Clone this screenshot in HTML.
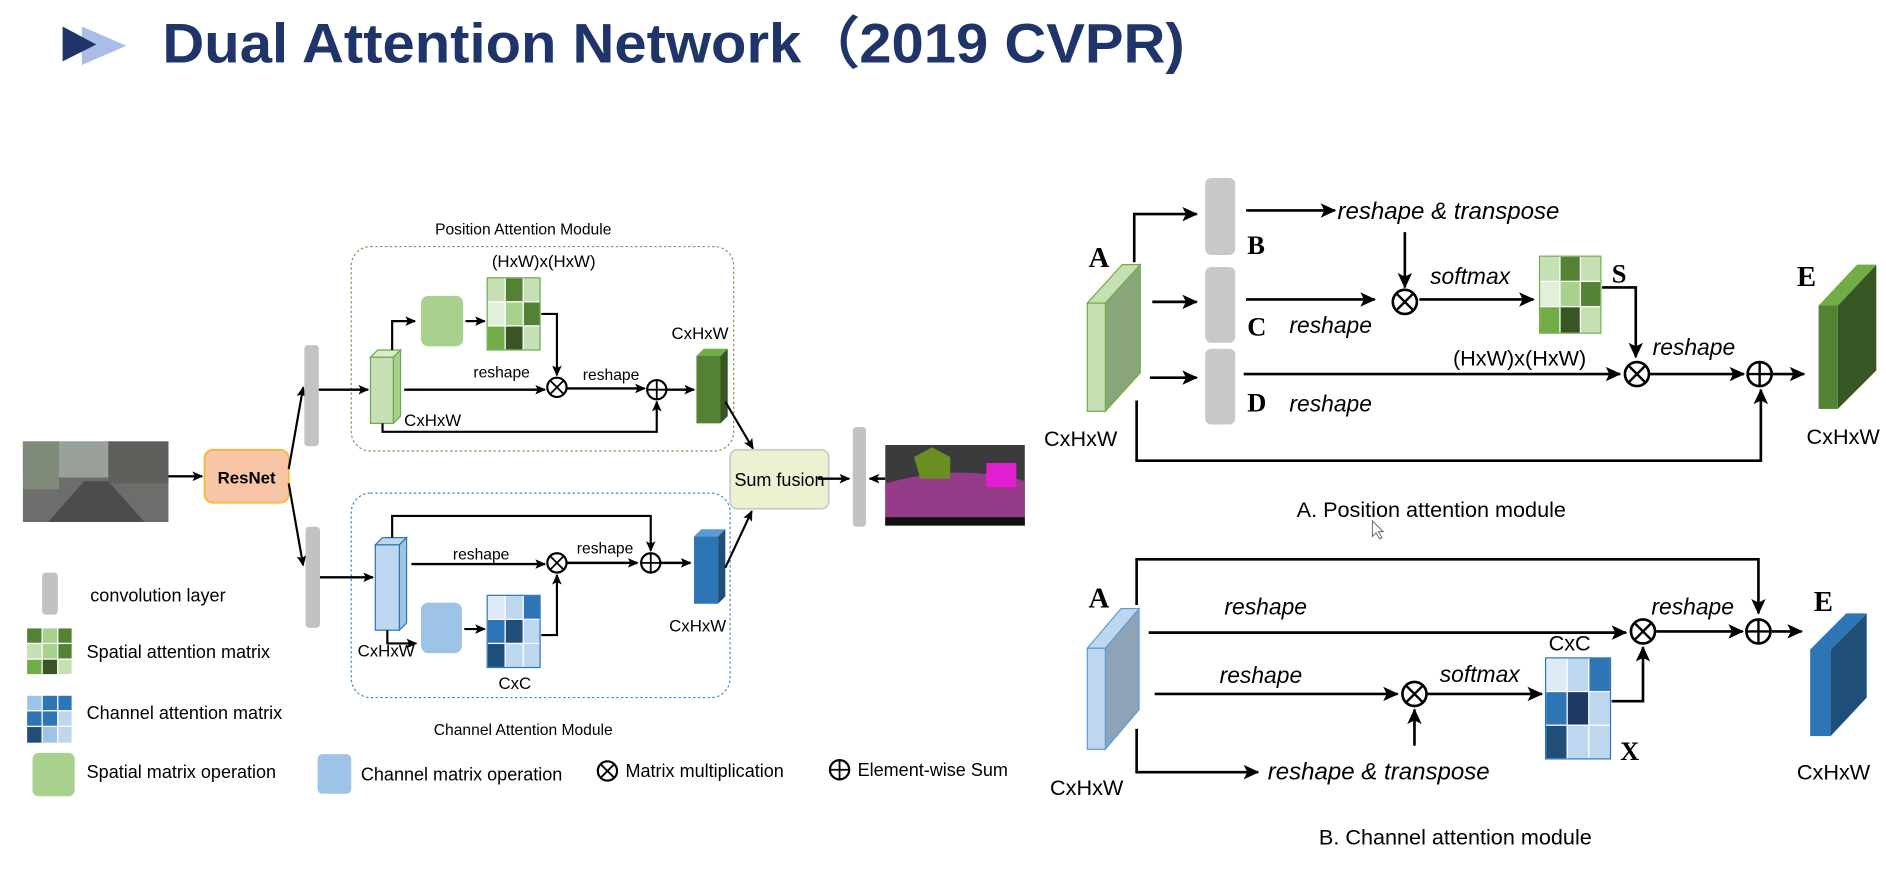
<!DOCTYPE html>
<html><head><meta charset="utf-8"><style>
html,body{margin:0;padding:0;background:#fff;width:1886px;height:884px;overflow:hidden}
svg{display:block}
text{font-family:"Liberation Sans",sans-serif}
.it{font-style:italic}
.sr{font-family:"Liberation Serif",serif;font-weight:bold}
</style></head><body>
<svg width="1886" height="884" viewBox="0 0 1568 735" xmlns="http://www.w3.org/2000/svg">
<defs>
<marker id="ar" markerWidth="10" markerHeight="10" refX="8" refY="5" orient="auto" markerUnits="userSpaceOnUse"><path d="M0,1 L9,5 L0,9 L2,5 z" fill="#000"/></marker>
<marker id="ar2" markerWidth="14" markerHeight="14" refX="12" refY="7" orient="auto" markerUnits="userSpaceOnUse"><path d="M0,1 L13,7 L0,13 L3,7 z" fill="#000"/></marker>
<g id="otimes"><circle r="8" fill="#fff" stroke="#000" stroke-width="1.8"/><path d="M-5.5,-5.5 L5.5,5.5 M-5.5,5.5 L5.5,-5.5" stroke="#000" stroke-width="1.5"/></g>
<g id="oplus"><circle r="8" fill="#fff" stroke="#000" stroke-width="1.8"/><path d="M-8,0 L8,0 M0,-8 L0,8" stroke="#000" stroke-width="1.5"/></g>
<g id="otb"><circle r="10" fill="#fff" stroke="#000" stroke-width="2.2"/><path d="M-7,-7 L7,7 M-7,7 L7,-7" stroke="#000" stroke-width="2"/></g>
<g id="opb"><circle r="10" fill="#fff" stroke="#000" stroke-width="2.2"/><path d="M-10,0 L10,0 M0,-10 L0,10" stroke="#000" stroke-width="2"/></g>
</defs>

<!-- Title -->
<polygon points="68,22 105,38 68,54" fill="#a9bde6"/>
<polygon points="52,22 80,37 52,51" fill="#1f3569"/>
<text x="135" y="52" font-size="46" font-weight="bold" fill="#1f3569" textLength="850" lengthAdjust="spacingAndGlyphs">Dual Attention Network（2019 CVPR)</text>

<!-- street image -->
<rect x="19" y="367" width="121" height="67" fill="#6d6e6c"/>
<rect x="19" y="367" width="121" height="30" fill="#9aa09a"/>
<polygon points="40,434 70,400 90,400 120,434" fill="#4b4c4d"/>
<rect x="19" y="367" width="30" height="40" fill="#7f8a7a"/>
<rect x="90" y="367" width="50" height="35" fill="#5e605c"/>
<!-- ResNet -->
<rect x="170" y="374" width="70" height="44" rx="7" fill="#f8c6a6" stroke="#f4b93a" stroke-width="1.5"/>
<text x="205" y="402" font-size="14" font-weight="bold" text-anchor="middle">ResNet</text>
<line x1="140" y1="396" x2="168" y2="396" stroke="#000" stroke-width="2" marker-end="url(#ar)"/>
<line x1="240" y1="390" x2="252" y2="322" stroke="#000" stroke-width="1.8" marker-end="url(#ar)"/>
<line x1="240" y1="402" x2="252" y2="470" stroke="#000" stroke-width="1.8" marker-end="url(#ar)"/>
<rect x="253" y="287" width="12" height="84" rx="3" fill="#c2c2c2"/>
<rect x="254" y="438" width="12" height="84" rx="3" fill="#c2c2c2"/>

<!-- Position module -->
<rect x="292" y="205" width="318" height="170" rx="16" fill="none" stroke="#7a9a5a" stroke-width="1" stroke-dasharray="2,2"/>
<text x="435" y="195" font-size="13" text-anchor="middle">Position Attention Module</text>
<line x1="265" y1="324" x2="306" y2="324" stroke="#000" stroke-width="2" marker-end="url(#ar)"/>
<polygon points="308,297 314,291 333,291 327,297" fill="#d9ecc9" stroke="#6aa84f"/>
<polygon points="327,297 333,291 333,346 327,352" fill="#a8d08d" stroke="#6aa84f"/>
<rect x="308" y="297" width="19" height="55" fill="#c6e0b4" stroke="#6aa84f"/>
<path d="M326,291 L326,267 L345,267" stroke="#000" stroke-width="1.8" fill="none" marker-end="url(#ar)"/>
<rect x="350" y="246" width="35" height="42" rx="6" fill="#a9d18e"/>
<line x1="387" y1="267" x2="403" y2="267" stroke="#000" stroke-width="1.8" marker-end="url(#ar)"/>
<g stroke="#fff" stroke-width="1">
<rect x="405" y="231" width="15" height="20" fill="#c6e0b4"/><rect x="420" y="231" width="15" height="20" fill="#548235"/><rect x="435" y="231" width="14" height="20" fill="#c6e0b4"/>
<rect x="405" y="251" width="15" height="20" fill="#e2efda"/><rect x="420" y="251" width="15" height="20" fill="#a9d18e"/><rect x="435" y="251" width="14" height="20" fill="#548235"/>
<rect x="405" y="271" width="15" height="20" fill="#70ad47"/><rect x="420" y="271" width="15" height="20" fill="#375623"/><rect x="435" y="271" width="14" height="20" fill="#c6e0b4"/>
</g>
<rect x="405" y="231" width="44" height="60" fill="none" stroke="#6aa84f"/>
<text x="452" y="222" font-size="14" text-anchor="middle">(HxW)x(HxW)</text>
<path d="M450,261 L463,261 L463,312" stroke="#000" stroke-width="1.8" fill="none" marker-end="url(#ar)"/>
<line x1="336" y1="324" x2="453" y2="324" stroke="#000" stroke-width="2" marker-end="url(#ar)"/>
<text x="417" y="314" font-size="13" text-anchor="middle">reshape</text>
<use href="#otimes" x="463" y="322"/>
<line x1="471" y1="323" x2="536" y2="323" stroke="#000" stroke-width="2" marker-end="url(#ar)"/>
<text x="508" y="316" font-size="13" text-anchor="middle">reshape</text>
<use href="#oplus" x="546" y="324"/>
<path d="M318,352 L318,359 L546,359 L546,334" stroke="#000" stroke-width="1.8" fill="none" marker-end="url(#ar)"/>
<text x="336" y="354" font-size="14">CxHxW</text>
<line x1="554" y1="324" x2="577" y2="324" stroke="#000" stroke-width="2" marker-end="url(#ar)"/>
<polygon points="579,296 585,290 605,290 599,296" fill="#70ad47"/>
<polygon points="599,296 605,290 605,346 599,352" fill="#375623"/>
<rect x="579" y="296" width="20" height="56" fill="#548235"/>
<text x="582" y="282" font-size="14" text-anchor="middle">CxHxW</text>
<line x1="603" y1="334" x2="626" y2="373" stroke="#000" stroke-width="1.8" marker-end="url(#ar)"/>

<!-- Channel module -->
<rect x="292" y="410" width="315" height="170" rx="16" fill="none" stroke="#3a8fd0" stroke-width="1" stroke-dasharray="2,2"/>
<text x="435" y="611" font-size="13" text-anchor="middle">Channel Attention Module</text>
<line x1="266" y1="480" x2="310" y2="480" stroke="#000" stroke-width="2" marker-end="url(#ar)"/>
<polygon points="312,453 318,447 338,447 332,453" fill="#bdd7ee" stroke="#2e75b6"/>
<polygon points="332,453 338,447 338,518 332,524" fill="#9dc3e6" stroke="#2e75b6"/>
<rect x="312" y="453" width="20" height="71" fill="#bdd7ee" stroke="#2e75b6"/>
<path d="M326,447 L326,429 L541,429 L541,458" stroke="#000" stroke-width="1.8" fill="none" marker-end="url(#ar)"/>
<line x1="342" y1="469" x2="453" y2="469" stroke="#000" stroke-width="2" marker-end="url(#ar)"/>
<text x="400" y="465" font-size="13" text-anchor="middle">reshape</text>
<use href="#otimes" x="463" y="468"/>
<line x1="471" y1="468" x2="530" y2="468" stroke="#000" stroke-width="2" marker-end="url(#ar)"/>
<text x="503" y="460" font-size="13" text-anchor="middle">reshape</text>
<use href="#oplus" x="541" y="468"/>
<line x1="549" y1="468" x2="574" y2="468" stroke="#000" stroke-width="2" marker-end="url(#ar)"/>
<path d="M322,524 L322,535 L346,535" stroke="#000" stroke-width="1.8" fill="none" marker-end="url(#ar)"/>
<rect x="350" y="501" width="34" height="42" rx="6" fill="#9dc3e6"/>
<line x1="386" y1="523" x2="403" y2="523" stroke="#000" stroke-width="1.8" marker-end="url(#ar)"/>
<g stroke="#fff" stroke-width="1">
<rect x="405" y="495" width="15" height="20" fill="#deebf7"/><rect x="420" y="495" width="15" height="20" fill="#bdd7ee"/><rect x="435" y="495" width="14" height="20" fill="#2e75b6"/>
<rect x="405" y="515" width="15" height="20" fill="#2e75b6"/><rect x="420" y="515" width="15" height="20" fill="#1f4e79"/><rect x="435" y="515" width="14" height="20" fill="#bdd7ee"/>
<rect x="405" y="535" width="15" height="20" fill="#1f4e79"/><rect x="420" y="535" width="15" height="20" fill="#bdd7ee"/><rect x="435" y="535" width="14" height="20" fill="#bdd7ee"/>
</g>
<rect x="405" y="495" width="44" height="60" fill="none" stroke="#2e75b6"/>
<path d="M450,528 L463,528 L463,478" stroke="#000" stroke-width="1.8" fill="none" marker-end="url(#ar)"/>
<text x="321" y="546" font-size="14" text-anchor="middle">CxHxW</text>
<text x="428" y="573" font-size="14" text-anchor="middle">CxC</text>
<polygon points="577,446 583,440 603,440 597,446" fill="#5b9bd5"/>
<polygon points="597,446 603,440 603,496 597,502" fill="#1f4e79"/>
<rect x="577" y="446" width="20" height="56" fill="#2e75b6"/>
<text x="580" y="525" font-size="14" text-anchor="middle">CxHxW</text>
<line x1="603" y1="472" x2="625" y2="425" stroke="#000" stroke-width="1.8" marker-end="url(#ar)"/>

<!-- Sum fusion -->
<rect x="607" y="374" width="82" height="49" rx="6" fill="#eef0d2" stroke="#ccc" stroke-width="1.5"/>
<text x="648" y="404" font-size="15" text-anchor="middle">Sum fusion</text>
<line x1="680" y1="398" x2="706" y2="398" stroke="#000" stroke-width="2" marker-end="url(#ar)"/>
<rect x="709" y="355" width="11" height="83" rx="3" fill="#c2c2c2"/>
<line x1="736" y1="398" x2="723" y2="398" stroke="#000" stroke-width="2" marker-end="url(#ar)"/>
<!-- seg image -->
<rect x="736" y="370" width="116" height="67" fill="#3b3b3b"/>
<path d="M736,402 Q795,385 852,400 L852,430 L736,437 z" fill="#963a8a"/>
<polygon points="760,380 775,372 790,380 790,398 765,398" fill="#6b8e23"/>
<rect x="820" y="385" width="25" height="20" fill="#e020d0"/>
<rect x="736" y="430" width="116" height="7" fill="#111"/>

<!-- Legend -->
<rect x="35" y="476" width="13" height="35" rx="3" fill="#c2c2c2"/>
<text x="75" y="500" font-size="15">convolution layer</text>
<g stroke="#fff" stroke-width="1">
<rect x="22" y="522" width="13" height="13" fill="#548235"/><rect x="35" y="522" width="13" height="13" fill="#a9d18e"/><rect x="48" y="522" width="12" height="13" fill="#548235"/>
<rect x="22" y="535" width="13" height="13" fill="#c6e0b4"/><rect x="35" y="535" width="13" height="13" fill="#a9d18e"/><rect x="48" y="535" width="12" height="13" fill="#548235"/>
<rect x="22" y="548" width="13" height="13" fill="#70ad47"/><rect x="35" y="548" width="13" height="13" fill="#375623"/><rect x="48" y="548" width="12" height="13" fill="#c6e0b4"/>
<rect x="22" y="578" width="13" height="13" fill="#9dc3e6"/><rect x="35" y="578" width="13" height="13" fill="#2e75b6"/><rect x="48" y="578" width="12" height="13" fill="#2e75b6"/>
<rect x="22" y="591" width="13" height="13" fill="#2e75b6"/><rect x="35" y="591" width="13" height="13" fill="#2e75b6"/><rect x="48" y="591" width="12" height="13" fill="#bdd7ee"/>
<rect x="22" y="604" width="13" height="14" fill="#1f4e79"/><rect x="35" y="604" width="13" height="14" fill="#9dc3e6"/><rect x="48" y="604" width="12" height="14" fill="#bdd7ee"/>
</g>
<text x="72" y="547" font-size="15">Spatial attention matrix</text>
<text x="72" y="598" font-size="15">Channel attention matrix</text>
<rect x="27" y="626" width="35" height="36" rx="5" fill="#a9d18e"/>
<text x="72" y="647" font-size="15">Spatial matrix operation</text>
<rect x="264" y="627" width="28" height="33" rx="4" fill="#9dc3e6"/>
<text x="300" y="649" font-size="15">Channel matrix operation</text>
<use href="#otimes" x="505" y="641"/>
<text x="520" y="646" font-size="15">Matrix multiplication</text>
<use href="#oplus" x="698" y="640"/>
<text x="713" y="645" font-size="15">Element-wise Sum</text>

<!-- ===== Right top: Position attention ===== -->
<text x="905" y="222" font-size="24" class="sr">A</text>
<polygon points="919,252 948,220 948,310 919,342" fill="#8aa57a" stroke="#70ad47"/>
<polygon points="904,252 933,220 948,220 919,252" fill="#c6e0b4" stroke="#70ad47"/>
<rect x="904" y="252" width="15" height="90" fill="#c6e0b4" stroke="#70ad47"/>
<text x="868" y="371" font-size="18">CxHxW</text>
<path d="M943,218 L943,178 L995,178" stroke="#000" stroke-width="2.2" fill="none" marker-end="url(#ar2)"/>
<line x1="958" y1="251" x2="995" y2="251" stroke="#000" stroke-width="2.2" marker-end="url(#ar2)"/>
<line x1="956" y1="314" x2="995" y2="314" stroke="#000" stroke-width="2.2" marker-end="url(#ar2)"/>
<rect x="1002" y="148" width="25" height="64" rx="5" fill="#c8c8c8"/>
<rect x="1002" y="222" width="25" height="63" rx="5" fill="#c8c8c8"/>
<rect x="1002" y="290" width="25" height="63" rx="5" fill="#c8c8c8"/>
<text x="1037" y="211" font-size="22" class="sr">B</text>
<text x="1037" y="279" font-size="22" class="sr">C</text>
<text x="1037" y="342" font-size="22" class="sr">D</text>
<line x1="1036" y1="175" x2="1110" y2="175" stroke="#000" stroke-width="2.2" marker-end="url(#ar2)"/>
<text x="1112" y="182" font-size="20" class="it">reshape &amp; transpose</text>
<line x1="1168" y1="193" x2="1168" y2="239" stroke="#000" stroke-width="2.2" marker-end="url(#ar2)"/>
<line x1="1036" y1="249" x2="1143" y2="249" stroke="#000" stroke-width="2.2" marker-end="url(#ar2)"/>
<text x="1072" y="277" font-size="19" class="it">reshape</text>
<use href="#otb" x="1168" y="251"/>
<line x1="1180" y1="249" x2="1275" y2="249" stroke="#000" stroke-width="2.2" marker-end="url(#ar2)"/>
<text x="1189" y="236" font-size="19" class="it">softmax</text>
<g stroke="#fff" stroke-width="1">
<rect x="1280" y="213" width="17" height="21" fill="#c6e0b4"/><rect x="1297" y="213" width="17" height="21" fill="#548235"/><rect x="1314" y="213" width="17" height="21" fill="#c6e0b4"/>
<rect x="1280" y="234" width="17" height="21" fill="#e2efda"/><rect x="1297" y="234" width="17" height="21" fill="#a9d18e"/><rect x="1314" y="234" width="17" height="21" fill="#548235"/>
<rect x="1280" y="255" width="17" height="22" fill="#70ad47"/><rect x="1297" y="255" width="17" height="22" fill="#375623"/><rect x="1314" y="255" width="17" height="22" fill="#c6e0b4"/>
</g>
<rect x="1280" y="213" width="51" height="64" fill="none" stroke="#70ad47"/>
<text x="1340" y="235" font-size="22" class="sr">S</text>
<path d="M1332,239 L1360,239 L1360,297" stroke="#000" stroke-width="2.2" fill="none" marker-end="url(#ar2)"/>
<text x="1208" y="304" font-size="18">(HxW)x(HxW)</text>
<line x1="1034" y1="311" x2="1347" y2="311" stroke="#000" stroke-width="2.2" marker-end="url(#ar2)"/>
<text x="1072" y="342" font-size="19" class="it">reshape</text>
<use href="#otb" x="1361" y="311"/>
<text x="1374" y="295" font-size="19" class="it">reshape</text>
<line x1="1372" y1="311" x2="1450" y2="311" stroke="#000" stroke-width="2.2" marker-end="url(#ar2)"/>
<use href="#opb" x="1463" y="311"/>
<line x1="1474" y1="311" x2="1500" y2="311" stroke="#000" stroke-width="2.2" marker-end="url(#ar2)"/>
<path d="M945,333 L945,383 L1464,383 L1464,324" stroke="#000" stroke-width="2.2" fill="none" marker-end="url(#ar2)"/>
<text x="1494" y="238" font-size="24" class="sr">E</text>
<polygon points="1528,254 1560,220 1560,308 1528,340" fill="#375623"/>
<polygon points="1512,254 1544,220 1560,220 1528,254" fill="#70ad47"/>
<rect x="1512" y="254" width="16" height="86" fill="#548235"/>
<text x="1502" y="369" font-size="18">CxHxW</text>
<text x="1190" y="430" font-size="18" text-anchor="middle">A. Position attention module</text>
<path d="M1141,433 L1141,446 L1144,443 L1147,448 L1149,447 L1146,442 L1150,442 z" fill="#fff" stroke="#666" stroke-width="0.8"/>

<!-- ===== Right bottom: Channel attention ===== -->
<path d="M945,503 L945,465 L1462,465 L1462,510" stroke="#000" stroke-width="2.2" fill="none" marker-end="url(#ar2)"/>
<text x="905" y="505" font-size="24" class="sr">A</text>
<polygon points="919,539 947,506 947,590 919,623" fill="#8fa3b8" stroke="#5b9bd5"/>
<polygon points="904,539 932,506 947,506 919,539" fill="#bdd7ee" stroke="#5b9bd5"/>
<rect x="904" y="539" width="15" height="84" fill="#bdd7ee" stroke="#5b9bd5"/>
<text x="873" y="661" font-size="18">CxHxW</text>
<text x="1018" y="511" font-size="19" class="it">reshape</text>
<line x1="955" y1="526" x2="1352" y2="526" stroke="#000" stroke-width="2.2" marker-end="url(#ar2)"/>
<use href="#otb" x="1366" y="525"/>
<text x="1373" y="511" font-size="19" class="it">reshape</text>
<line x1="1377" y1="525" x2="1449" y2="525" stroke="#000" stroke-width="2.2" marker-end="url(#ar2)"/>
<use href="#opb" x="1462" y="525"/>
<line x1="1473" y1="525" x2="1498" y2="525" stroke="#000" stroke-width="2.2" marker-end="url(#ar2)"/>
<text x="1014" y="568" font-size="19" class="it">reshape</text>
<line x1="960" y1="577" x2="1162" y2="577" stroke="#000" stroke-width="2.2" marker-end="url(#ar2)"/>
<use href="#otb" x="1176" y="577"/>
<line x1="1176" y1="620" x2="1176" y2="590" stroke="#000" stroke-width="2.2" marker-end="url(#ar2)"/>
<text x="1197" y="567" font-size="19" class="it">softmax</text>
<line x1="1187" y1="577" x2="1282" y2="577" stroke="#000" stroke-width="2.2" marker-end="url(#ar2)"/>
<g stroke="#fff" stroke-width="1">
<rect x="1285" y="547" width="18" height="28" fill="#deebf7"/><rect x="1303" y="547" width="18" height="28" fill="#bdd7ee"/><rect x="1321" y="547" width="18" height="28" fill="#2e75b6"/>
<rect x="1285" y="575" width="18" height="28" fill="#2e75b6"/><rect x="1303" y="575" width="18" height="28" fill="#1f3864"/><rect x="1321" y="575" width="18" height="28" fill="#bdd7ee"/>
<rect x="1285" y="603" width="18" height="28" fill="#1f4e79"/><rect x="1303" y="603" width="18" height="28" fill="#bdd7ee"/><rect x="1321" y="603" width="18" height="28" fill="#bdd7ee"/>
</g>
<rect x="1285" y="547" width="54" height="84" fill="none" stroke="#2e75b6"/>
<text x="1305" y="541" font-size="18" text-anchor="middle">CxC</text>
<text x="1347" y="632" font-size="22" class="sr">X</text>
<path d="M1340,583 L1366,583 L1366,538" stroke="#000" stroke-width="2.2" fill="none" marker-end="url(#ar2)"/>
<path d="M945,606 L945,642 L1046,642" stroke="#000" stroke-width="2.2" fill="none" marker-end="url(#ar2)"/>
<text x="1054" y="648" font-size="20" class="it">reshape &amp; transpose</text>
<text x="1508" y="508" font-size="24" class="sr">E</text>
<polygon points="1522,540 1552,510 1552,580 1522,612" fill="#1f4e79"/>
<polygon points="1505,540 1535,510 1552,510 1522,540" fill="#2e75b6"/>
<rect x="1505" y="540" width="17" height="72" fill="#2e75b6"/>
<text x="1494" y="648" font-size="18">CxHxW</text>
<text x="1210" y="702" font-size="18" text-anchor="middle">B. Channel attention module</text>
</svg>
</body></html>
